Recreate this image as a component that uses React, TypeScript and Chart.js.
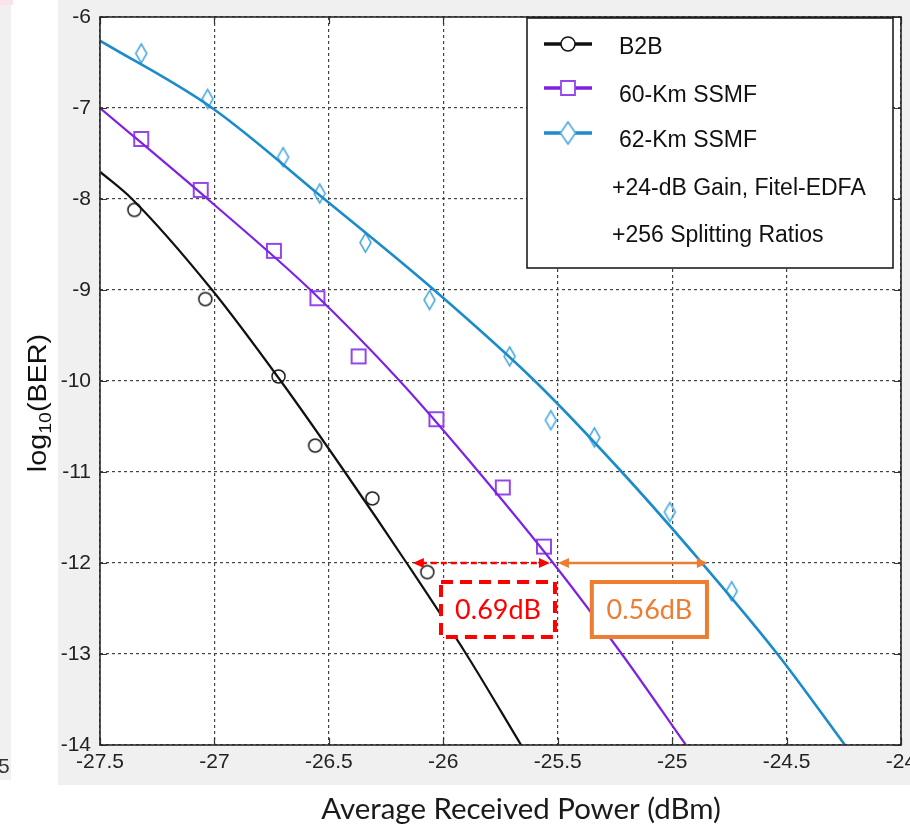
import React, { useEffect, useRef } from 'react';
import { Chart, registerables } from 'chart.js';

Chart.register(...registerables);

// ---------- data ----------
const xTickValues = [-27.5, -27, -26.5, -26, -25.5, -25, -24.5, -24];
const xTickLabels = ['-27.5', '-27', '-26.5', '-26', '-25.5', '-25', '-24.5', '-24'];
const yTickValues = [-14, -13, -12, -11, -10, -9, -8, -7, -6];
const yTickLabels = ['-14', '-13', '-12', '-11', '-10', '-9', '-8', '-7', '-6'];

const seriesNames = ['B2B', '60-Km SSMF', '62-Km SSMF'];
const legendNotes = ['+24-dB Gain, Fitel-EDFA', '+256 Splitting Ratios'];

// measured points
const b2bX = [-27.35, -27.04, -26.72, -26.56, -26.31, -26.07];
const b2bY = [-8.12, -9.10, -9.95, -10.71, -11.29, -12.10];
const km60X = [-27.32, -27.06, -26.74, -26.55, -26.37, -26.03, -25.74, -25.56];
const km60Y = [-7.34, -7.90, -8.57, -9.09, -9.73, -10.42, -11.17, -11.82];
const km62X = [-27.32, -27.03, -26.70, -26.54, -26.34, -26.06, -25.71, -25.53, -25.34, -25.01, -24.74];
const km62Y = [-6.40, -6.90, -7.54, -7.94, -8.48, -9.11, -9.73, -10.43, -10.62, -11.44, -12.31];

// fitted curves
const b2bFitX = [-27.5, -27.36, -27.01, -26.71, -26.43, -26.16, -25.90, -25.66];
const b2bFitY = [-7.7, -8, -9, -10, -11, -12, -13, -14];
const km60FitX = [-27.5, -27.03, -26.58, -26.19, -25.845, -25.52, -25.22, -24.94];
const km60FitY = [-7, -8, -9, -10, -11, -12, -13, -14];
const km62FitX = [-27.5, -27.01, -26.52, -26.04, -25.60, -25.22, -24.87, -24.54, -24.245];
const km62FitY = [-6.26, -7, -8, -9, -10, -11, -12, -13, -14];

// annotations (data coordinates)
const gapLevel = -12;
const redArrowX = [-26.133, -25.534];
const orangeArrowX = [-25.499, -24.844];
const redBoxX = [-26.01, -25.512];
const orangeBoxX = [-25.351, -24.848];
const boxY = [-12.209, -12.813];
const gapLabels = ['0.69dB', '0.56dB'];

// ---------- style ----------
const C_B2B = '#111111';
const C_60 = '#7d22e4';
const C_60M = '#9446ec';
const C_62 = '#1b8bcb';
const C_62M = '#4eaae0';
const C_RED = '#ff0000';
const C_ORANGE = '#ed7d31';
const FONT_TICK = '"Liberation Sans Narrow", "Liberation Sans", Arial, sans-serif';
const FONT_SANS = '"Liberation Sans", Arial, sans-serif';
const FONT_NOTE = 'Lato, "Open Sans", sans-serif';

function marker(kind: string, w: number, h: number, color: string, lw: number, fill: string | null) {
  const c = document.createElement('canvas');
  const pad = 2;
  c.width = Math.ceil(w + pad * 2);
  c.height = Math.ceil(h + pad * 2);
  const g = c.getContext('2d') as CanvasRenderingContext2D;
  g.lineWidth = lw;
  g.strokeStyle = color;
  const cx = c.width / 2;
  const cy = c.height / 2;
  g.beginPath();
  if (kind === 'circle') g.ellipse(cx, cy, w / 2, h / 2, 0, 0, Math.PI * 2);
  else if (kind === 'square') g.rect(cx - w / 2, cy - h / 2, w, h);
  else {
    g.moveTo(cx, cy - h / 2);
    g.lineTo(cx + w / 2, cy);
    g.lineTo(cx, cy + h / 2);
    g.lineTo(cx - w / 2, cy);
    g.closePath();
  }
  if (fill) {
    g.fillStyle = fill;
    g.fill();
  }
  g.stroke();
  return c;
}

const zip = (xs: number[], ys: number[]) => xs.map((x, i) => ({ x, y: ys[i] }));

function arrowHead(ctx: CanvasRenderingContext2D, x: number, y: number, dir: number, len: number, hw: number, color: string) {
  ctx.save();
  ctx.setLineDash([]);
  ctx.fillStyle = color;
  ctx.beginPath();
  ctx.moveTo(x, y);
  ctx.lineTo(x - dir * len, y - hw);
  ctx.lineTo(x - dir * len, y + hw);
  ctx.closePath();
  ctx.fill();
  ctx.restore();
}

export default function App() {
  const ref = useRef<HTMLCanvasElement | null>(null);

  useEffect(() => {
    const canvas = ref.current;
    if (!canvas) return;

    const circleImg = marker('circle', 13, 13, '#1a1a1a', 1.5, null);
    const squareImg = marker('square', 14, 14, C_60M, 2, null);
    const diamondImg = marker('diamond', 11, 19, C_62M, 1.6, null);

    const lineDs = (xs: number[], ys: number[], color: string, w: number) => ({
      data: zip(xs, ys),
      showLine: true,
      borderColor: color,
      borderWidth: w,
      pointRadius: 0,
      cubicInterpolationMode: 'monotone' as const,
      fill: false,
    });
    const ptDs = (xs: number[], ys: number[], img: HTMLCanvasElement) => ({
      data: zip(xs, ys),
      showLine: false,
      pointStyle: img,
      pointRadius: 6,
      borderWidth: 0,
    });

    const decor = {
      id: 'decor',
      beforeDraw(chart: any) {
        const ctx = chart.ctx as CanvasRenderingContext2D;
        const a = chart.chartArea;
        ctx.save();
        ctx.fillStyle = '#ffffff';
        ctx.fillRect(0, 0, 910, 828);
        ctx.fillStyle = '#f0f0f0';
        ctx.fillRect(58, 0, 852, 785);
        ctx.fillRect(0, 0, 11, 780);
        ctx.fillStyle = '#fbe3ea';
        ctx.fillRect(0, 0, 13, 5);
        ctx.fillStyle = '#ffffff';
        ctx.fillRect(a.left, a.top, a.right - a.left, a.bottom - a.top);
        ctx.restore();
      },
      afterDatasetsDraw(chart: any) {
        const ctx = chart.ctx as CanvasRenderingContext2D;
        const a = chart.chartArea;
        const xs = chart.scales.x;
        const ys = chart.scales.y;
        ctx.save();
        // inner ticks
        ctx.strokeStyle = '#333333';
        ctx.lineWidth = 1.2;
        ctx.beginPath();
        xTickValues.forEach((v) => {
          const px = Math.round(xs.getPixelForValue(v)) + 0.5;
          ctx.moveTo(px, a.bottom);
          ctx.lineTo(px, a.bottom - 7);
          ctx.moveTo(px, a.top);
          ctx.lineTo(px, a.top + 7);
        });
        yTickValues.forEach((v) => {
          const py = Math.round(ys.getPixelForValue(v)) + 0.5;
          ctx.moveTo(a.left, py);
          ctx.lineTo(a.left + 7, py);
          ctx.moveTo(a.right, py);
          ctx.lineTo(a.right - 7, py);
        });
        ctx.stroke();
        // box
        ctx.strokeStyle = '#2a2a2a';
        ctx.lineWidth = 1.6;
        ctx.strokeRect(a.left, a.top, a.right - a.left, a.bottom - a.top);

        // gap arrows
        const gy = ys.getPixelForValue(gapLevel);
        const rx0 = xs.getPixelForValue(redArrowX[0]);
        const rx1 = xs.getPixelForValue(redArrowX[1]);
        ctx.strokeStyle = C_RED;
        ctx.lineWidth = 2.5;
        ctx.setLineDash([6, 4]);
        ctx.beginPath();
        ctx.moveTo(rx0 + 8, gy);
        ctx.lineTo(rx1 - 8, gy);
        ctx.stroke();
        arrowHead(ctx, rx0, gy, -1, 11, 5, C_RED);
        arrowHead(ctx, rx1, gy, 1, 11, 5, C_RED);

        const ox0 = xs.getPixelForValue(orangeArrowX[0]);
        const ox1 = xs.getPixelForValue(orangeArrowX[1]);
        ctx.setLineDash([]);
        ctx.strokeStyle = C_ORANGE;
        ctx.lineWidth = 2.6;
        ctx.beginPath();
        ctx.moveTo(ox0 + 8, gy);
        ctx.lineTo(ox1 - 8, gy);
        ctx.stroke();
        arrowHead(ctx, ox0, gy, -1, 11, 5, C_ORANGE);
        arrowHead(ctx, ox1, gy, 1, 11, 5, C_ORANGE);

        // boxes
        const by0 = ys.getPixelForValue(boxY[0]);
        const by1 = ys.getPixelForValue(boxY[1]);
        const drawBox = (bx: number[], color: string, dash: number[], label: string) => {
          const x0 = xs.getPixelForValue(bx[0]);
          const x1 = xs.getPixelForValue(bx[1]);
          ctx.fillStyle = '#ffffff';
          ctx.fillRect(x0, by0, x1 - x0, by1 - by0);
          ctx.strokeStyle = color;
          ctx.lineWidth = 4;
          ctx.setLineDash(dash);
          ctx.strokeRect(x0, by0, x1 - x0, by1 - by0);
          ctx.setLineDash([]);
          ctx.fillStyle = color;
          ctx.font = `27px ${FONT_NOTE}`;
          ctx.textAlign = 'center';
          ctx.textBaseline = 'middle';
          ctx.fillText(label, (x0 + x1) / 2, (by0 + by1) / 2 + 1);
        };
        drawBox(redBoxX, C_RED, [12, 7], gapLabels[0]);
        drawBox(orangeBoxX, C_ORANGE, [], gapLabels[1]);

        // legend
        ctx.fillStyle = '#ffffff';
        ctx.fillRect(527, 18, 366, 250);
        ctx.strokeStyle = '#111111';
        ctx.lineWidth = 1.5;
        ctx.strokeRect(527, 18, 366, 250);
        const entries = [
          { y: 44, ty: 48, color: C_B2B, img: marker('circle', 14, 14, '#111111', 1.5, '#ffffff') },
          { y: 88, ty: 96, color: C_60, img: marker('square', 14, 14, C_60M, 1.8, '#ffffff') },
          { y: 133, ty: 141, color: C_62, img: marker('diamond', 15, 22, C_62M, 1.6, '#ffffff') },
        ];
        entries.forEach((e, i) => {
          ctx.strokeStyle = e.color;
          ctx.lineWidth = 3.5;
          ctx.beginPath();
          ctx.moveTo(544, e.y);
          ctx.lineTo(592, e.y);
          ctx.stroke();
          ctx.drawImage(e.img, 568 - e.img.width / 2, e.y - e.img.height / 2);
          ctx.fillStyle = '#111111';
          ctx.font = `23px ${FONT_SANS}`;
          ctx.textAlign = 'left';
          ctx.textBaseline = 'middle';
          ctx.fillText(seriesNames[i], 619, e.ty);
        });
        ctx.fillText(legendNotes[0], 612, 189);
        ctx.fillText(legendNotes[1], 612, 236);
        ctx.restore();
      },
      afterDraw(chart: any) {
        const ctx = chart.ctx as CanvasRenderingContext2D;
        ctx.save();
        // y title with subscript
        ctx.translate(46, 403);
        ctx.rotate(-Math.PI / 2);
        ctx.scale(1.15, 1);
        ctx.fillStyle = '#111111';
        ctx.textBaseline = 'alphabetic';
        ctx.textAlign = 'left';
        const big = `25px ${FONT_SANS}`;
        const small = `17px ${FONT_SANS}`;
        ctx.font = big;
        const w1 = ctx.measureText('log').width;
        const w3 = ctx.measureText('(BER)').width;
        ctx.font = small;
        const w2 = ctx.measureText('10').width;
        const total = w1 + w2 + w3;
        let x = -total / 2;
        ctx.font = big;
        ctx.fillText('log', x, 0);
        x += w1;
        ctx.font = small;
        ctx.fillText('10', x, 5);
        x += w2;
        ctx.font = big;
        ctx.fillText('(BER)', x, 0);
        ctx.restore();

        // x title
        ctx.save();
        ctx.fillStyle = '#1a1a1a';
        ctx.font = `28px ${FONT_NOTE}`;
        const t = 'Average Received Power (dBm)';
        const tw = ctx.measureText(t).width;
        const size = Math.max(20, Math.min(34, (28 * 400) / tw));
        ctx.font = `${size}px ${FONT_NOTE}`;
        ctx.textAlign = 'center';
        ctx.textBaseline = 'middle';
        ctx.fillText(t, 521, 810);
        // cropped fragment at left edge
        ctx.fillStyle = '#333333';
        ctx.font = `21px ${FONT_TICK}`;
        ctx.textAlign = 'left';
        ctx.fillText('5', -2, 767);
        ctx.restore();
      },
    };

    const gridCommon = { color: '#444444', lineWidth: 1.2, drawTicks: false };
    const tickFont = { family: FONT_TICK, size: 21 };

    const chart = new Chart(canvas, {
      type: 'scatter',
      data: {
        datasets: [
          lineDs(b2bFitX, b2bFitY, C_B2B, 2.2),
          lineDs(km60FitX, km60FitY, C_60, 2.2),
          lineDs(km62FitX, km62FitY, C_62, 2.6),
          ptDs(b2bX, b2bY, circleImg),
          ptDs(km60X, km60Y, squareImg),
          ptDs(km62X, km62Y, diamondImg),
        ] as any,
      },
      options: {
        animation: false,
        responsive: false,
        devicePixelRatio: 1,
        events: [],
        layout: { padding: { left: 0, top: 17, right: 9, bottom: 0 } },
        plugins: { legend: { display: false }, tooltip: { enabled: false } },
        scales: {
          x: {
            type: 'linear',
            min: -27.5,
            max: -24,
            afterBuildTicks: (s: any) => {
              s.ticks = xTickValues.map((v) => ({ value: v }));
            },
            afterFit: (s: any) => {
              s.height = 83;
              s.paddingLeft = 0;
              s.paddingRight = 0;
            },
            ticks: {
              callback: (_v: any, i: number) => xTickLabels[i],
              font: tickFont,
              color: '#222222',
              padding: 5,
              maxRotation: 0,
              autoSkip: false,
            },
            grid: gridCommon,
            border: { display: false, dash: [3, 3] },
          },
          y: {
            type: 'linear',
            min: -14,
            max: -6,
            afterBuildTicks: (s: any) => {
              s.ticks = yTickValues.map((v) => ({ value: v }));
            },
            afterFit: (s: any) => {
              s.width = 100;
              s.paddingTop = 0;
              s.paddingBottom = 0;
            },
            ticks: {
              callback: (_v: any, i: number) => yTickLabels[i],
              font: tickFont,
              color: '#222222',
              padding: 9,
              autoSkip: false,
            },
            grid: gridCommon,
            border: { display: false, dash: [3, 3] },
          },
        },
      } as any,
      plugins: [decor],
    });

    return () => chart.destroy();
  }, []);

  return (
    <div style={{ position: 'absolute', left: 0, top: 0, width: 910, height: 828 }}>
      <canvas ref={ref} width={910} height={828} style={{ display: 'block', width: 910, height: 828 }} />
    </div>
  );
}
